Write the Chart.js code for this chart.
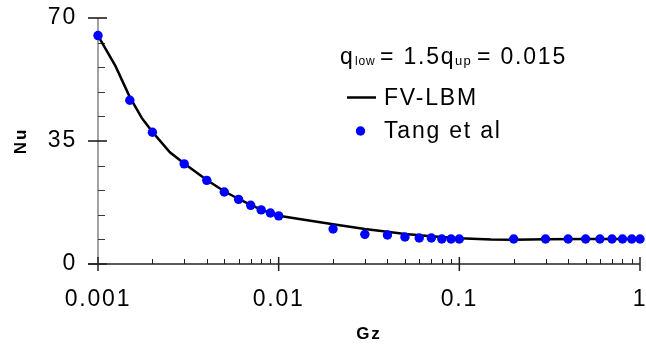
<!DOCTYPE html>
<html>
<head>
<meta charset="utf-8">
<script src="https://cdn.jsdelivr.net/npm/chart.js@4/dist/chart.umd.min.js"></script>
<style>
  html, body { margin: 0; padding: 0; background: #fff; }
  #wrap { width: 646px; height: 347px; }
</style>
</head>
<body>
<div id="wrap"><canvas id="c" width="646" height="347"></canvas></div>
<script>
// Tang et al reference data (Graetz number vs Nusselt number)
const tangGz = [0.001, 0.0015, 0.002, 0.003, 0.004, 0.005, 0.006, 0.007, 0.008, 0.009, 0.01,
                0.02, 0.03, 0.04, 0.05, 0.06, 0.07, 0.08, 0.09, 0.1,
                0.2, 0.3, 0.4, 0.5, 0.6, 0.7, 0.8, 0.9, 1];
const tangNu = [65.0, 46.6, 37.5, 28.5, 23.8, 20.5, 18.4, 16.7, 15.4, 14.5, 13.7,
                9.96, 8.44, 8.25, 7.68, 7.39, 7.39, 7.1, 7.1, 7.1,
                7.1, 7.1, 7.1, 7.1, 7.1, 7.1, 7.1, 7.1, 7.1];

// FV-LBM solution curve
const fvGz = [0.001, 0.00125, 0.0015, 0.00175, 0.002, 0.0025, 0.003, 0.004, 0.005, 0.006,
              0.007, 0.008, 0.009, 0.01, 0.015, 0.02, 0.03, 0.04, 0.05, 0.07,
              0.1, 0.15, 0.2, 0.3, 0.5, 1];
const fvNu = [65.0, 56.3, 47.5, 41.5, 37.6, 31.8, 28.6, 23.9, 20.7, 18.5,
              16.8, 15.5, 14.5, 13.7, 12.3, 11.3, 9.95, 9.2, 8.55, 7.9,
              7.3, 6.95, 6.9, 7.05, 7.1, 7.1];

// Axis ticks
const xTickValues = [0.001, 0.01, 0.1, 1];
const xTickLabels = ['0.001', '0.01', '0.1', '1'];
const yTickValues = [0, 35, 70];
const yMinorStep = 7;

const FONT = '"Liberation Sans", Arial, Helvetica, sans-serif';
const SPACING = '1.8px';

function seg(ctx, x1, y1, x2, y2) {
  ctx.beginPath(); ctx.moveTo(x1, y1); ctx.lineTo(x2, y2); ctx.stroke();
}

// widen glyph spacing for all canvas text
const spacing = {
  id: 'spacing',
  beforeLayout(chart) { chart.ctx.letterSpacing = SPACING; },
  beforeDraw(chart) { chart.ctx.letterSpacing = SPACING; }
};

// axis lines with major ticks crossing the axis and minor ticks inside
const axisMarks = {
  id: 'axisMarks',
  beforeDatasetsDraw(chart) {
    const { ctx, chartArea: a, scales: { x, y } } = chart;
    ctx.save();
    ctx.lineCap = 'butt';
    ctx.strokeStyle = '#858585';
    ctx.lineWidth = 1.5;
    seg(ctx, a.left, a.top, a.left, a.bottom);

    ctx.strokeStyle = '#3a3a3a';
    ctx.lineWidth = 1;
    for (let v = y.min; v <= y.max; v += yMinorStep) {
      if (yTickValues.includes(v)) continue;
      const py = Math.round(y.getPixelForValue(v)) + 0.5;
      seg(ctx, a.left, py, a.left + 7, py);
    }
    ctx.strokeStyle = '#111';
    ctx.lineWidth = 1.5;
    yTickValues.forEach(v => {
      const py = y.getPixelForValue(v);
      seg(ctx, a.left - 10, py, a.left + 9, py);
    });

    ctx.strokeStyle = '#222';
    ctx.lineWidth = 1.5;
    seg(ctx, a.left - 10, a.bottom, a.right, a.bottom);

    ctx.lineWidth = 1;
    for (let d = 0; d < xTickValues.length - 1; d++) {
      for (let k = 2; k <= 9; k++) {
        const px = Math.round(x.getPixelForValue(xTickValues[d] * k)) + 0.5;
        seg(ctx, px, a.bottom - 5, px, a.bottom);
      }
    }
    ctx.lineWidth = 1.5;
    xTickValues.forEach(v => {
      const px = x.getPixelForValue(v);
      seg(ctx, px, a.bottom - 7, px, a.bottom + 7);
    });
    ctx.restore();
  }
};

// parameter note and legend
const noteAndLegend = {
  id: 'noteAndLegend',
  afterDraw(chart) {
    const { ctx } = chart;
    const big = '23px ' + FONT;
    ctx.save();
    ctx.fillStyle = '#000';
    ctx.textBaseline = 'alphabetic';
    ctx.textAlign = 'left';

    ctx.letterSpacing = SPACING;
    ctx.font = big;
    ctx.fillText('q', 340, 64);
    ctx.fillText('= 1.5q', 380, 64);
    ctx.fillText('= 0.015', 477, 64);
    ctx.font = '12px ' + FONT;
    ctx.letterSpacing = '0.8px';
    ctx.fillText('low', 355, 65);
    ctx.font = '13px ' + FONT;
    ctx.letterSpacing = '1.2px';
    ctx.fillText('up', 455, 65);

    const fv = chart.data.datasets[0];
    const tang = chart.data.datasets[1];
    ctx.letterSpacing = SPACING;
    ctx.font = big;
    ctx.strokeStyle = fv.borderColor;
    ctx.lineWidth = fv.borderWidth;
    seg(ctx, 347, 97.5, 376, 97.5);
    ctx.fillText(fv.label, 384, 105);

    ctx.fillStyle = tang.backgroundColor;
    ctx.beginPath();
    ctx.arc(360.5, 131, tang.pointRadius, 0, Math.PI * 2);
    ctx.fill();
    ctx.fillStyle = '#000';
    ctx.fillText(tang.label, 384, 138);
    ctx.restore();
  }
};

new Chart(document.getElementById('c'), {
  type: 'scatter',
  data: {
    datasets: [
      {
        label: 'FV-LBM',
        type: 'line',
        data: fvGz.map((g, i) => ({ x: g, y: fvNu[i] })),
        borderColor: '#000',
        borderWidth: 2.5,
        pointRadius: 0,
        tension: 0,
        fill: false,
        clip: false,
        order: 1
      },
      {
        label: 'Tang et al',
        data: tangGz.map((g, i) => ({ x: g, y: tangNu[i] })),
        backgroundColor: '#0000ff',
        borderWidth: 0,
        pointRadius: 4.7,
        clip: false,
        order: 0
      }
    ]
  },
  options: {
    responsive: false,
    animation: false,
    events: [],
    layout: { padding: { top: 18, right: 6, left: 0, bottom: 0 } },
    plugins: { legend: { display: false }, tooltip: { enabled: false } },
    scales: {
      x: {
        type: 'logarithmic',
        min: 0.001,
        max: 1,
        grid: { display: false, drawTicks: false },
        border: { display: false },
        afterBuildTicks(scale) { scale.ticks = xTickValues.map(v => ({ value: v })); },
        afterFit(scale) {
          scale.height = 83;
          scale.paddingLeft = 0;
          scale.paddingRight = 0;
        },
        ticks: {
          autoSkip: false,
          maxRotation: 0,
          padding: 22,
          color: '#000',
          font: { family: FONT, size: 23 },
          callback: (v) => xTickLabels[xTickValues.indexOf(v)] ?? ''
        },
        title: {
          display: true,
          text: 'Gz',
          color: '#000',
          font: { family: FONT, size: 17, weight: 'bold' },
          padding: { top: 0, bottom: 2 }
        }
      },
      y: {
        min: 0,
        max: 70,
        grid: { display: false, drawTicks: false },
        border: { display: false },
        afterBuildTicks(scale) { scale.ticks = yTickValues.map(v => ({ value: v })); },
        afterFit(scale) {
          scale.width = 98;
          scale.paddingTop = 0;
          scale.paddingBottom = 0;
        },
        ticks: {
          padding: 21,
          color: '#000',
          font: { family: FONT, size: 23 }
        },
        title: {
          display: true,
          text: 'Nu',
          color: '#000',
          font: { family: FONT, size: 17, weight: 'bold' },
          padding: { top: 11, bottom: 0 }
        }
      }
    }
  },
  plugins: [spacing, axisMarks, noteAndLegend]
});
</script>
</body>
</html>
